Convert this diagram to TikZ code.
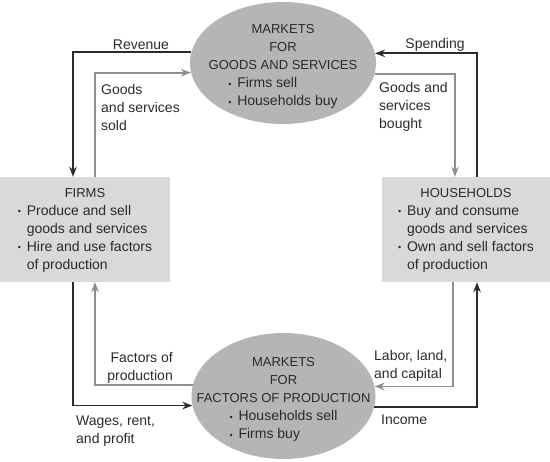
\documentclass[tikz,border=0pt]{standalone}
\usepackage{fontspec}
\setmainfont{Liberation Sans}
\usetikzlibrary{shapes.geometric,arrows.meta}
\definecolor{txt}{HTML}{2A2A2A}
\definecolor{darkline}{HTML}{2B2B2B}
\definecolor{lightline}{HTML}{8E8E8E}
\definecolor{ellfill}{HTML}{B5B5B5}
\definecolor{boxfill}{HTML}{D9D9D9}
\newcommand{\capsf}{\fontsize{13}{18}\selectfont}
\newcommand{\bodyf}{\fontsize{14}{18}\selectfont}
\newcommand{\bul}{\makebox[9pt][l]{\raisebox{0.5pt}{\fontsize{9}{9}\selectfont •}}}
\begin{document}
\begin{tikzpicture}[x=1pt,y=-1pt,
  market/.style={ellipse, fill=ellfill, inner sep=0pt},
  agent/.style={rectangle, fill=boxfill, minimum height=105pt, inner sep=0pt, font=\bodyf, text=txt},
  mtext/.style={font=\bodyf, text=txt, inner sep=0pt, align=center},
  lbl/.style={font=\bodyf, text=txt, inner sep=0pt, align=left},
  flow/.style={line width=1.8pt, -{Stealth[length=10pt,width=7.5pt]}},
  money/.style={flow, draw=darkline},
  goods/.style={flow, draw=lightline}]
\useasboundingbox (0,0) rectangle (550,462);

% markets
\node[market, minimum width=186pt, minimum height=122pt] (gm) at (283,63) {};
\node[mtext] (gmtext) at ([yshift=-3pt]gm.center) {\begin{tabular}{@{}c@{}}{\capsf MARKETS}\\{\capsf FOR}\\{\capsf GOODS AND SERVICES}\\
  \begin{tabular}[t]{@{}l@{}}\bul Firms sell\\ \bul Households buy\end{tabular}\end{tabular}};

\node[market, minimum width=184pt, minimum height=126pt] (fm) at (283.5,396) {};
\node[mtext] (fmtext) at ([yshift=-3pt]fm.center) {\begin{tabular}{@{}c@{}}{\capsf MARKETS}\\{\capsf FOR}\\{\capsf FACTORS OF PRODUCTION}\\
  \begin{tabular}[t]{@{}l@{}}\bul Households sell\\ \bul Firms buy\end{tabular}\end{tabular}};

% agents
\node[agent, minimum width=170pt] (firms) at (85,229.5) {\begin{tabular}{@{}l@{}}\multicolumn{1}{@{}c@{}}{\capsf FIRMS}\\
  \bul Produce and sell\\ \hspace{9pt}goods and services\\ \bul Hire and use factors\\ \hspace{9pt}of production\end{tabular}};
\node[agent, minimum width=168pt] (hh) at (466,229.5) {\begin{tabular}{@{}l@{}}\multicolumn{1}{@{}c@{}}{\capsf HOUSEHOLDS}\\
  \bul Buy and consume\\ \hspace{9pt}goods and services\\ \bul Own and sell factors\\ \hspace{9pt}of production\end{tabular}};

% flows
\draw[money] (gm.173.78) -| ([xshift=-12pt]firms.north);
\draw[goods] ([xshift=10pt]firms.north) |- (gm.186.22);
\draw[money] ([xshift=11pt]hh.north) |- (gm.6.22);
\draw[goods] (gm.353.78) -| ([xshift=-11pt]hh.north);
\draw[goods] (fm.173.07) -| ([xshift=10pt]firms.south);
\draw[money] ([xshift=-12pt]firms.south) |- (fm.186.93);
\draw[goods] ([xshift=-13pt]hh.south) |- (fm.6.93);
\draw[money] (fm.353.07) -| ([xshift=11pt]hh.south);

% labels
\node[lbl] (revenue) at (141,45) {Revenue};
\node[lbl, anchor=west] (gsold) at (101,107) {Goods\\and services\\sold};
\node[lbl] (spending) at (435,45) {Spending};
\node[lbl, anchor=west] (gbought) at (379,107) {Goods and\\services\\bought};
\node[lbl, anchor=east, align=right] (fprod) at (173,368) {Factors of\\production};
\node[lbl, anchor=west] (wages) at (76,431) {Wages, rent,\\and profit};
\node[lbl, anchor=west] (labor) at (374,366) {Labor, land,\\and capital};
\node[lbl, anchor=west] (income) at (381,420) {Income};
\end{tikzpicture}
\end{document}
